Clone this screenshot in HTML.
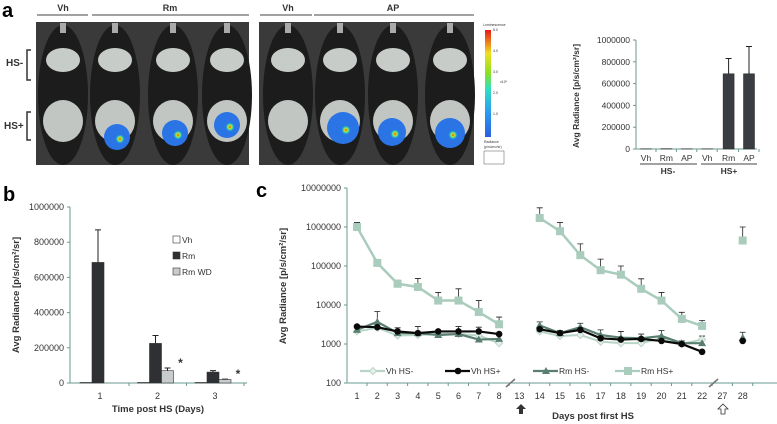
<!DOCTYPE html>
<html><head><meta charset="utf-8"><style>
body{margin:0;background:#fff}
svg{display:block;font-family:"Liberation Sans",sans-serif}
</style></head><body>
<svg id="fig" width="777" height="424" viewBox="0 0 777 424" xmlns="http://www.w3.org/2000/svg">
<defs>
<linearGradient id="cb" x1="0" y1="1" x2="0" y2="0">
<stop offset="0" stop-color="#2a5fe0"/><stop offset="0.25" stop-color="#2aa0f0"/><stop offset="0.45" stop-color="#30e0c0"/><stop offset="0.6" stop-color="#8ce020"/><stop offset="0.78" stop-color="#f0e020"/><stop offset="1" stop-color="#e81818"/>
</linearGradient>
<radialGradient id="hot"><stop offset="0" stop-color="#e04010"/><stop offset="0.3" stop-color="#d0e020"/><stop offset="0.6" stop-color="#30d0b0"/><stop offset="1" stop-color="#2a70e8" stop-opacity="0"/></radialGradient>
</defs>
<g id="panelA"></g>
<g id="panelA2"></g>
<g id="panelB"></g>
<g id="panelC"></g>
</svg>
<script>
const NS="http://www.w3.org/2000/svg";
function mk(p,t,a,txt){const e=document.createElementNS(NS,t);for(const k in a)e.setAttribute(k,a[k]);if(txt!==undefined)e.textContent=txt;p.appendChild(e);return e;}

// ---------- Panel a images ----------
const A=document.getElementById('panelA');
let t=mk(A,'text',{x:2,y:17,'font-size':20,'font-weight':'bold'},'a');


const groups=[["Vh",63,37,88],["Rm",170,92,249],["Vh",288,260,312],["AP",393,314,474]];
groups.forEach(g=>{
 let tx=mk(A,'text',{x:g[1],y:11,'font-size':9,'font-weight':'bold','text-anchor':'middle',fill:'#333'},g[0]);
 
 
 mk(A,'line',{x1:g[2],x2:g[3],y1:15,y2:15,stroke:'#444','stroke-width':1});
});
[[36,249],[259,474]].forEach(b=>{
 let r=mk(A,'rect',{x:b[0],y:22,width:b[1]-b[0],height:143,fill:'#3a3a3a'});
 
 
});
const mice=[[63,0],[115,[117,137,13]],[173,[175,133,13]],[227,[227,125,13]],[288,0],[340,[343,128,16]],[393,[392,132,14]],[450,[450,133,15]]];
mice.forEach(m=>{
 const x=m[0];
 mk(A,'ellipse',{cx:x,cy:95,rx:25,ry:70,fill:'#1c1c1c'});
 mk(A,'rect',{x:x-3,y:23,width:6,height:10,fill:'#aaa'});
 mk(A,'ellipse',{cx:x,cy:60,rx:17,ry:12,fill:'#c8ccc8'});
 mk(A,'ellipse',{cx:x,cy:121,rx:20,ry:21,fill:'#c2c6c2'});
 if(m[1]){const c=m[1];
  let s=mk(A,'circle',{cx:c[0],cy:c[1],r:c[2],fill:'#2a74e6'});
  
  
  mk(A,'circle',{cx:c[0]+3,cy:c[1]+2,r:5,fill:'url(#hot)'});}
});
mk(A,'text',{x:6,y:66,'font-size':10,'font-weight':'bold',fill:'#333'},'HS-');
mk(A,'path',{d:'M31 50 H27 V80 H31',fill:'none',stroke:'#333','stroke-width':1.5});
mk(A,'text',{x:4,y:129,'font-size':10,'font-weight':'bold',fill:'#333'},'HS+');
mk(A,'path',{d:'M31 112 H27 V140 H31',fill:'none',stroke:'#333','stroke-width':1.5});
let cbar=mk(A,'rect',{x:485,y:30,width:6,height:107,fill:'url(#cb)'});


mk(A,'text',{x:483,y:26,'font-size':3.5,fill:'#333'},'Luminescence');
[["5.0",31],["4.0",52],["3.0",73],["2.0",94],["1.0",115]].forEach(v=>mk(A,'text',{x:493,y:v[1],'font-size':3.5,fill:'#333'},v[0]));
mk(A,'text',{x:500,y:83,'font-size':3.5,fill:'#333'},'x10⁵');
mk(A,'text',{x:484,y:143,'font-size':3.5,fill:'#333'},'Radiance');
mk(A,'text',{x:484,y:148,'font-size':3.5,fill:'#333'},'(p/s/cm²/sr)');
mk(A,'rect',{x:484,y:151,width:20,height:13,fill:'#fff',stroke:'#555','stroke-width':0.5});

// ---------- Panel a chart ----------
const aCats=["Vh","Rm","AP","Vh","Rm","AP"];
const aVals=[2000,3000,2000,1500,690000,690000];
const aErr=[0,0,0,0,830000,940000];
const aTicks=[0,200000,400000,600000,800000,1000000];
const P2=document.getElementById('panelA2');
const aY=v=>149-v/1000000*109, aX=i=>646+i*20.4;
mk(P2,'line',{x1:636,x2:636,y1:40,y2:149,stroke:'#6a9a90'});
mk(P2,'line',{x1:636,x2:757,y1:149,y2:149,stroke:'#6a9a90'});
aTicks.forEach(v=>{mk(P2,'line',{x1:633,x2:636,y1:aY(v),y2:aY(v),stroke:'#6a9a90'});
 let l=mk(P2,'text',{x:630,y:aY(v)+3,'font-size':8.5,'text-anchor':'end',fill:'#333'},v);
 
 });
aCats.forEach((c,i)=>{const x=aX(i)+(i>=4?1:0);
 mk(P2,'line',{x1:x+10,x2:x+10,y1:149,y2:152,stroke:'#6a9a90'});
 let l=mk(P2,'text',{x:x,y:161,'font-size':8.5,'text-anchor':'middle',fill:'#333'},c);
 
 
 if(aErr[i])mk(P2,'path',{d:`M${x} ${aY(aVals[i])} V${aY(aErr[i])} M${x-3} ${aY(aErr[i])} H${x+3}`,stroke:'#222',fill:'none'});
 let b=mk(P2,'rect',{x:x-5.5,y:aY(aVals[i]),width:11,height:149-aY(aVals[i]),fill:'#3a3d42',stroke:'#222','stroke-width':0.5});
 
 
});
mk(P2,'line',{x1:640,x2:697,y1:164,y2:164,stroke:'#444'});
mk(P2,'line',{x1:701,x2:757,y1:164,y2:164,stroke:'#444'});
mk(P2,'text',{x:668,y:174,'font-size':8.5,'font-weight':'bold','text-anchor':'middle',fill:'#333'},'HS-');
mk(P2,'text',{x:729,y:174,'font-size':8.5,'font-weight':'bold','text-anchor':'middle',fill:'#333'},'HS+');
let at=mk(P2,'text',{transform:'translate(579,96) rotate(-90)','font-size':8.5,'font-weight':'bold','text-anchor':'middle',fill:'#333'},'Avg Radiance [p/s/cm²/sr]');



// ---------- Panel b ----------
const bCats=["1","2","3"];
const bVh=[3000,3000,3000];
const bRm=[685000,225000,62000];
const bRmErr=[870000,270000,70000];
const bWD=[null,70000,20000];
const bWDErr=[null,85000,22000];
const bTicks=[0,200000,400000,600000,800000,1000000];
const B=document.getElementById('panelB');
const bY=v=>383-v/1000000*176, bX=i=>100+i*57.5;
t=mk(B,'text',{x:3,y:201,'font-size':20,'font-weight':'bold'},'b');
mk(B,'line',{x1:70,x2:70,y1:207,y2:383,stroke:'#6a9a90'});
mk(B,'line',{x1:70,x2:247,y1:383,y2:383,stroke:'#6a9a90'});
bTicks.forEach(v=>{mk(B,'line',{x1:67,x2:70,y1:bY(v),y2:bY(v),stroke:'#6a9a90'});
 let l=mk(B,'text',{x:64,y:bY(v)+3,'font-size':9,'text-anchor':'end',fill:'#333'},v);
 
 });
function bbar(x,v,e,fill,name){
 if(e!=null)mk(B,'path',{d:`M${x+6} ${bY(v)} V${bY(e)} M${x+3} ${bY(e)} H${x+9}`,stroke:'#222',fill:'none'});
 let r=mk(B,'rect',{x:x,y:bY(v),width:12,height:383-bY(v),fill:fill,stroke:'#333','stroke-width':0.6});
 
 
}
bCats.forEach((c,i)=>{const cx=bX(i);
 mk(B,'line',{x1:cx+29,x2:cx+29,y1:383,y2:386,stroke:'#6a9a90'});
 let l=mk(B,'text',{x:cx,y:399,'font-size':9,'text-anchor':'middle',fill:'#333'},c);
 
 
 bbar(cx-20,bVh[i],null,'#fff','bar-vh');
 bbar(cx-8,bRm[i],bRmErr[i],'#2e3034','bar-rm');
 if(bWD[i]!=null){bbar(cx+4,bWD[i],bWDErr[i],'#c8cccc','bar-rm-wd');
  mk(B,'text',{x:cx+23,y:bY(bWDErr[i])-1,'font-size':12,'font-weight':'bold','text-anchor':'middle',fill:'#333'},'*');}
});
[["Vh","#fff",243],["Rm","#2e3034",259],["Rm WD","#c8cccc",275]].forEach(L=>{
 let r=mk(B,'rect',{x:173,y:L[2]-7,width:7,height:7,fill:L[1],stroke:'#333','stroke-width':0.6});
 
 
 let l=mk(B,'text',{x:182,y:L[2],'font-size':8.5,fill:'#333'},L[0]);
 
 
});
mk(B,'text',{x:158,y:412,'font-size':9.5,'font-weight':'bold','text-anchor':'middle',fill:'#333'},'Time post HS (Days)');
mk(B,'text',{transform:'translate(19,295) rotate(-90)','font-size':9.5,'font-weight':'bold','text-anchor':'middle',fill:'#333'},'Avg Radiance [p/s/cm²/sr]');

// ---------- Panel c ----------
const cCats=["1","2","3","4","5","6","7","8","13","14","15","16","17","18","19","20","21","22","27","28"];
const rmHSp=[1000000,120000,35000,29000,13000,13000,6600,3200,null,1700000,780000,190000,78000,60000,26000,13000,4400,2900,null,450000];
const rmHSpErr=[1300000,140000,43000,48000,21000,26000,13000,4900,null,3100000,1300000,370000,150000,100000,47000,21000,6500,4000,null,1000000];
const vhHSp=[2800,2700,2100,1900,2100,2100,2100,1800,null,2400,1900,2300,1400,1300,1350,1200,1000,630,null,1200];
const rmHSm=[2300,3700,1900,1900,1700,1800,1300,1350,null,3000,1900,2700,1700,1450,1400,1600,1050,1050,null,1450];
const rmHSmErr=[2600,6800,2600,2800,2000,2800,2700,1700,null,3700,2200,3400,2300,2100,1800,2200,1200,1600,null,2000];
const vhHSm=[2100,2600,1650,1700,1800,1800,1650,1050,null,2100,1600,1700,1150,1050,1050,1400,1000,1300,null,null];
const cTicks=[100,1000,10000,100000,1000000,10000000];
const C=document.getElementById('panelC');
const cY=v=>383-(Math.log10(v)-2)*39, cX=i=>357+i*20.3;
mk(C,'text',{x:256,y:197,'font-size':20,'font-weight':'bold'},'c');
mk(C,'line',{x1:347,x2:347,y1:188,y2:383,stroke:'#6a9a90'});
mk(C,'line',{x1:347,x2:777,y1:383,y2:383,stroke:'#6a9a90'});
cTicks.forEach(v=>{mk(C,'line',{x1:344,x2:347,y1:cY(v),y2:cY(v),stroke:'#6a9a90'});
 let l=mk(C,'text',{x:341,y:cY(v)+3,'font-size':9,'text-anchor':'end',fill:'#333'},v);
 
 });
cCats.forEach((c,i)=>{mk(C,'line',{x1:cX(i)+10,x2:cX(i)+10,y1:383,y2:386,stroke:'#6a9a90'});
 let l=mk(C,'text',{x:cX(i),y:399,'font-size':9,'text-anchor':'middle',fill:'#333'},c);
 
 });
function errs(vals,e){vals.forEach((v,i)=>{if(v==null||e[i]==null)return;const x=cX(i);
 mk(C,'path',{d:`M${x} ${cY(v)} V${cY(e[i])} M${x-3} ${cY(e[i])} H${x+3}`,stroke:'#222',fill:'none','stroke-width':0.8});});}
function series(vals,color,w,marker,name){
 const g=mk(C,'g',{});
 
 
 let d='',pen=false;
 vals.forEach((v,i)=>{if(v==null){pen=false;return;}d+=(pen?'L':'M')+cX(i)+' '+cY(v)+' ';pen=true;});
 mk(g,'path',{d:d,fill:'none',stroke:color,'stroke-width':w});
 vals.forEach((v,i)=>{if(v==null)return;const x=cX(i),y=cY(v);let m;
  if(marker==='sq')m=mk(g,'rect',{x:x-4,y:y-4,width:8,height:8,fill:color});
  else if(marker==='c')m=mk(g,'circle',{cx:x,cy:y,r:3.3,fill:color});
  else if(marker==='t')m=mk(g,'path',{d:`M${x} ${y-4}L${x+4} ${y+3}L${x-4} ${y+3}Z`,fill:color});
  else m=mk(g,'path',{d:`M${x} ${y-3.5}L${x+3.5} ${y}L${x} ${y+3.5}L${x-3.5} ${y}Z`,fill:'#e8f0ec',stroke:color});
  
  });
}
errs(rmHSp,rmHSpErr);errs(rmHSm,rmHSmErr);
series(vhHSm,'#b8d4c6',2,'d','vh-hs-minus-series');
series(rmHSm,'#5a7f70',2.2,'t','rm-hs-minus-series');
series(vhHSp,'#0a0a0a',2.2,'c','vh-hs-plus-series');
series(rmHSp,'#a9ccbc',2.5,'sq','rm-hs-plus-series');
[["Vh HS-","#b8d4c6",'d',390],["Vh HS+","#0a0a0a",'c',475],["Rm HS-","#5a7f70",'t',563],["Rm HS+","#a9ccbc",'sq',645]].forEach(L=>{
 const x=L[3],y=371;
 const g=mk(C,'g',{});
 
 
 mk(g,'line',{x1:x-30,x2:x-5,y1:y,y2:y,stroke:L[1],'stroke-width':2.2});
 if(L[2]==='sq')mk(g,'rect',{x:x-21,y:y-4,width:8,height:8,fill:L[1]});
 else if(L[2]==='c')mk(g,'circle',{cx:x-17,cy:y,r:3.3,fill:L[1]});
 else if(L[2]==='t')mk(g,'path',{d:`M${x-17} ${y-4}L${x-13} ${y+3}L${x-21} ${y+3}Z`,fill:L[1]});
 else mk(g,'path',{d:`M${x-17} ${y-3.5}L${x-13.5} ${y}L${x-17} ${y+3.5}L${x-20.5} ${y}Z`,fill:'#e8f0ec',stroke:L[1]});
 mk(g,'text',{x:x-4,y:y+3,'font-size':8.5,fill:'#333'},L[0]);
});
[506,709].forEach(x=>mk(C,'line',{x1:x,y1:387,x2:x+9,y2:379,stroke:'#777','stroke-width':1.6}));
let ar=mk(C,'path',{d:'M521 404 L526 409 H523 V414 H519 V409 H516 Z',fill:'#333'});


let ar2=mk(C,'path',{d:'M723 404 L728 409 H725 V414 H721 V409 H718 Z',fill:'#fff',stroke:'#333','stroke-width':0.8});


mk(C,'text',{x:593,y:419,'font-size':9.5,'font-weight':'bold','text-anchor':'middle',fill:'#333'},'Days post first HS');
mk(C,'text',{transform:'translate(286,286) rotate(-90)','font-size':9.5,'font-weight':'bold','text-anchor':'middle',fill:'#333'},'Avg Radiance [p/s/cm²/sr]');
</script>
</body></html>
